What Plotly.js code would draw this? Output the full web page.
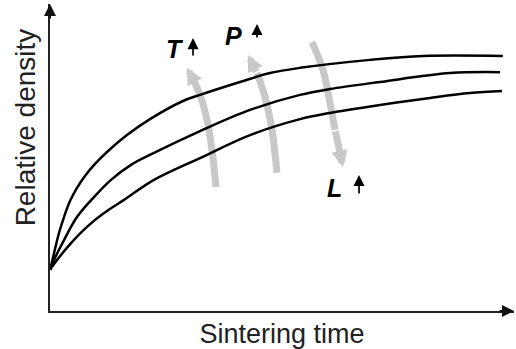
<!DOCTYPE html>
<html>
<head>
<meta charset="utf-8">
<script src="https://cdn.plot.ly/plotly-3.0.1.min.js"></script>
<style>html,body{margin:0;padding:0;background:#fff;}#chart{width:516px;height:349px;}</style>
</head>
<body>
<div id="chart"></div>
<script>
// Sintering time (arbitrary units) and relative density (fraction)
var timeTop = [0, 0.043, 0.108, 0.194, 0.302, 0.431, 0.582, 0.754, 0.970, 1.228, 1.659, 2.155, 2.866, 3.233, 4.095, 4.741, 5.388, 6.897, 8.04, 9.76];
var densTop = [0.134, 0.160, 0.202, 0.254, 0.306, 0.358, 0.401, 0.440, 0.479, 0.518, 0.573, 0.625, 0.684, 0.704, 0.746, 0.775, 0.792, 0.818, 0.831, 0.831];

var timeMid = [0, 0.086, 0.302, 0.582, 0.948, 1.315, 1.746, 2.241, 3.233, 4.31, 5.388, 6.03, 7.11, 8.62, 9.7];
var densMid = [0.134, 0.166, 0.231, 0.306, 0.371, 0.427, 0.476, 0.515, 0.586, 0.655, 0.704, 0.723, 0.746, 0.775, 0.778];

var timeLow = [0, 0.151, 0.453, 0.797, 1.164, 1.595, 2.241, 3.233, 4.31, 5.388, 6.03, 7.11, 8.19, 9.05, 9.74];
var densLow = [0.134, 0.166, 0.221, 0.274, 0.319, 0.362, 0.427, 0.498, 0.573, 0.625, 0.645, 0.671, 0.694, 0.710, 0.717];

// trend arrows (T, P up; L down); last point is the tip
var arrowTx = [3.578, 3.491, 3.384, 3.233, 3.060, 2.953];
var arrowTy = [0.404, 0.524, 0.622, 0.704, 0.762, 0.792];
var arrowPx = [4.892, 4.784, 4.634, 4.461, 4.267];
var arrowPy = [0.450, 0.590, 0.697, 0.775, 0.834];
var arrowLx = [5.647, 5.884, 6.034, 6.142, 6.315];
var arrowLy = [0.876, 0.785, 0.678, 0.590, 0.469];

var labels = ['T', 'P', 'L'];
var xTitle = 'Sintering time';
var yTitle = 'Relative density';

var GRAY = '#c8c8c8';
function grayShaft(xs, ys) {
  return {x: xs.slice(0, -1), y: ys.slice(0, -1), mode: 'lines', type: 'scatter', hoverinfo: 'skip', showlegend: false,
    line: {color: GRAY, width: 7, shape: 'spline'}};
}
function grayHead(xs, ys) {
  var n = xs.length;
  return {x: xs[n - 1], y: ys[n - 1], xref: 'x', yref: 'y', axref: 'x', ayref: 'y',
    ax: xs[n - 2], ay: ys[n - 2], text: '', showarrow: true,
    arrowhead: 2, arrowsize: 0.47, arrowwidth: 7, arrowcolor: GRAY, standoff: 0};
}
function curve(xs, ys) {
  return {x: xs, y: ys, mode: 'lines', type: 'scatter', showlegend: false,
    line: {color: '#000', width: 2.5, shape: 'spline', smoothing: 1}};
}

var data = [
  grayShaft(arrowTx, arrowTy), grayShaft(arrowPx, arrowPy), grayShaft(arrowLx, arrowLy),
  curve(timeTop, densTop), curve(timeMid, densMid), curve(timeLow, densLow)
];

var lblFont = {family: 'Liberation Sans, Arial, sans-serif', size: 25, color: '#000', weight: 'bold', style: 'italic'};
function smallArrow(x, y, ay) {
  return {x: x, y: y, xref: 'x', yref: 'y', text: '', showarrow: true, ax: 0, ay: ay,
    arrowhead: 2, arrowsize: 1.3, arrowwidth: 1.7, arrowcolor: '#000', standoff: 0};
}
var annotations = [
  grayHead(arrowTx, arrowTy), grayHead(arrowPx, arrowPy), grayHead(arrowLx, arrowLy),
  {x: 2.694, y: 0.853, xref: 'x', yref: 'y', text: labels[0], showarrow: false, font: lblFont},
  {x: 3.944, y: 0.896, xref: 'x', yref: 'y', text: labels[1], showarrow: false, font: lblFont},
  {x: 6.121, y: 0.402, xref: 'x', yref: 'y', text: labels[2], showarrow: false, font: lblFont},
  smallArrow(3.082, 0.889, 19), smallArrow(4.461, 0.935, 15), smallArrow(6.66, 0.443, 20),
  // y-axis title, placed where the picture has it (upper part of the axis)
  {x: -0.054, y: 0.598, xref: 'paper', yref: 'paper', xanchor: 'center', yanchor: 'middle',
    text: yTitle, textangle: -90, showarrow: false, font: {size: 28, color: '#222'}},
  // axis arrowheads
  {x: 0, y: 1, xref: 'paper', yref: 'paper', text: '', showarrow: true, ax: 0, ay: 16,
    arrowhead: 2, arrowsize: 1.2, arrowwidth: 2, arrowcolor: '#111', standoff: 0},
  {x: 1, y: 0, xref: 'paper', yref: 'paper', text: '', showarrow: true, ax: -16, ay: 0,
    arrowhead: 2, arrowsize: 1.2, arrowwidth: 2, arrowcolor: '#111', standoff: 0}
];

var layout = {
  width: 516, height: 349,
  margin: {l: 50, r: 2, t: 4, b: 38},
  paper_bgcolor: '#fff', plot_bgcolor: '#fff',
  showlegend: false,
  font: {family: 'Liberation Sans, Arial, sans-serif', color: '#222'},
  xaxis: {range: [0, 10], showline: true, linecolor: '#222', linewidth: 2, showgrid: false, zeroline: false,
    showticklabels: false, ticks: '', fixedrange: true,
    title: {text: xTitle, font: {size: 27, color: '#222'}, standoff: 12}},
  yaxis: {range: [0, 1], showline: true, linecolor: '#222', linewidth: 2, showgrid: false, zeroline: false,
    showticklabels: false, ticks: '', fixedrange: true},
  annotations: annotations
};

Plotly.newPlot('chart', data, layout, {staticPlot: true, displayModeBar: false});
</script>
</body>
</html>
